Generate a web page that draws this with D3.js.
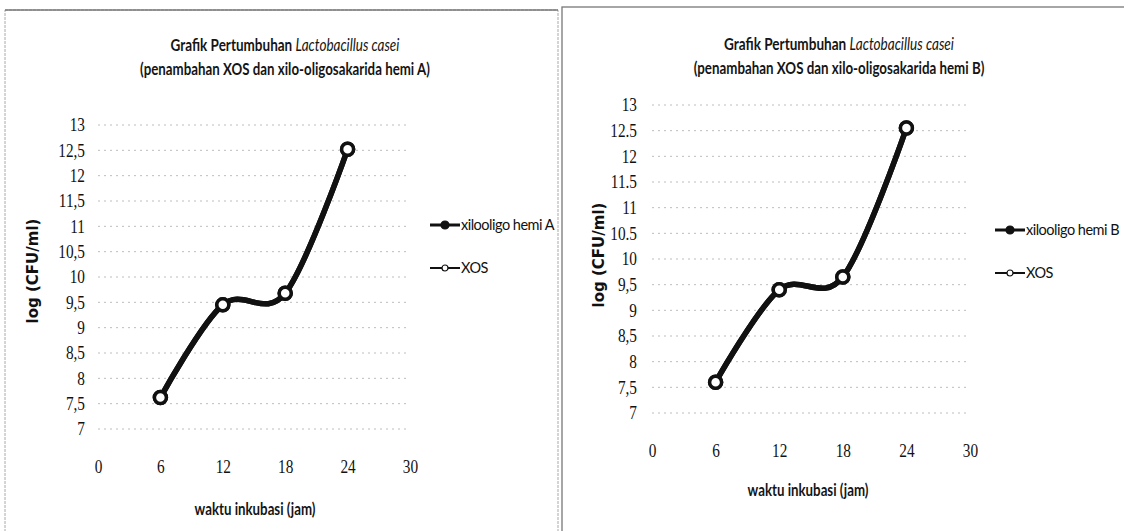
<!DOCTYPE html>
<html>
<head>
<meta charset="utf-8">
<script src="https://cdn.jsdelivr.net/npm/d3@7"></script>
<style>
  html, body { margin: 0; padding: 0; background: #fff; }
  svg { display: block; font-family: Lato, "Open Sans", sans-serif; }
</style>
</head>
<body>
<svg id="chart" width="1124" height="531"></svg>
<script>
// jam inkubasi
const hours = [6, 12, 18, 24];

// log (CFU/ml), panel A
const hemiA = [7.62, 9.45, 9.68, 12.52];
const xosA = [7.62, 9.45, 9.68, 12.52];

// log (CFU/ml), panel B
const hemiB = [7.60, 9.40, 9.65, 12.55];
const xosB = [7.60, 9.40, 9.65, 12.55];

const xTicks = [0, 6, 12, 18, 24, 30];
const yTicks = [7, 7.5, 8, 8.5, 9, 9.5, 10, 10.5, 11, 11.5, 12, 12.5, 13];
const yLabelsA = ["7", "7,5", "8", "8,5", "9", "9,5", "10", "10,5", "11", "11,5", "12", "12,5", "13"];
const yLabelsB = ["7", "7,5", "8", "8,5", "9", "9,5", "10", "10.5", "11", "11.5", "12", "12.5", "13"];

const titleMain = "Grafik Pertumbuhan ";
const titleSpecies = "Lactobacillus casei";
const subtitleA = "(penambahan XOS dan xilo-oligosakarida hemi A)";
const subtitleB = "(penambahan XOS dan xilo-oligosakarida hemi B)";
const xTitle = "waktu inkubasi (jam)";
const yTitle = "log (CFU/ml)";

const svg = d3.select("#chart");

// panel frames
svg.append("rect").attr("x", 5).attr("y", 10).attr("width", 553).attr("height", 540)
    .attr("fill", "none").attr("stroke", "#aaa").attr("stroke-width", 1).attr("stroke-dasharray", "3,1");
svg.append("line").attr("x1", 5).attr("x2", 558).attr("y1", 10).attr("y2", 10)
    .attr("stroke", "#777").attr("stroke-width", 1.3);
svg.append("rect").attr("x", 562).attr("y", 7).attr("width", 580).attr("height", 540)
    .attr("fill", "none").attr("stroke", "#777").attr("stroke-width", 1.3);

// squeeze a text horizontally so it fills the given width (narrow Calibri look)
function squeezed(parent, str, cx, cy, width, size) {
    const g = parent.append("g");
    const t = g.append("text")
        .attr("x", 0).attr("y", 0)
        .attr("text-anchor", "middle")
        .attr("font-size", size)
        .attr("font-weight", "bold")
        .attr("fill", "#151515");
    if (typeof str === "function") str(t); else t.text(str);
    const k = width / t.node().getComputedTextLength();
    g.attr("transform", `translate(${cx},${cy}) scale(${k},1)`);
    return t;
}

function drawPanel(cfg) {
    const g = svg.append("g");
    const x = d3.scaleLinear().domain([0, 30]).range([cfg.left, cfg.right]);
    const y = d3.scaleLinear().domain([7, 13]).range([cfg.bottom, cfg.top]);

    // title
    squeezed(g, t => {
        t.append("tspan").text(titleMain);
        t.append("tspan").attr("font-style", "italic").attr("font-weight", "normal").text(titleSpecies);
    }, cfg.titleX, cfg.titleY, cfg.titleW1, 17.5);
    squeezed(g, cfg.subtitle, cfg.titleX, cfg.titleY + 24, cfg.titleW2, 17.5);

    // grid lines
    g.selectAll(".grid")
        .data(yTicks)
        .enter()
        .append("line")
        .attr("x1", x(0)).attr("x2", x(30))
        .attr("y1", d => y(d)).attr("y2", d => y(d))
        .attr("stroke", "#bdbdbd").attr("stroke-width", 1)
        .attr("stroke-dasharray", "2,4");

    const tickFont = "Liberation Serif, DejaVu Serif, serif";

    // y axis
    const yAxis = d3.axisLeft(y)
        .tickValues(yTicks)
        .tickSize(0)
        .tickPadding(0)
        .tickFormat((d, i) => cfg.yLabels[i]);
    const ya = g.append("g").attr("transform", `translate(${cfg.left - cfg.yPad},0)`).call(yAxis)
        .attr("font-family", tickFont).attr("font-size", 18);
    ya.select(".domain").remove();
    ya.selectAll("text")
        .attr("x", 0)
        .attr("transform", "scale(0.85,1)")
        .attr("fill", "#111");

    // x axis
    const xAxis = d3.axisBottom(x)
        .tickValues(xTicks)
        .tickSize(0)
        .tickPadding(cfg.xPad);
    const xa = g.append("g").attr("transform", `translate(0,${cfg.bottom})`).call(xAxis)
        .attr("font-family", tickFont).attr("font-size", 18);
    xa.select(".domain").remove();
    xa.selectAll("text")
        .attr("transform", "scale(0.85,1)")
        .attr("fill", "#111");

    // axis titles
    squeezed(g, xTitle, cfg.xTitleX, cfg.xTitleY, 121, 16.5);
    g.append("text")
        .attr("transform", `translate(${cfg.yTitleX},${cfg.yTitleY}) rotate(-90)`)
        .attr("text-anchor", "middle")
        .attr("font-size", 15).attr("font-weight", "bold").attr("fill", "#111")
        .attr("font-family", "DejaVu Sans, sans-serif")
        .text(yTitle);

    const line = d3.line()
        .x(d => x(d[0]))
        .y(d => y(d[1]))
        .curve(d3.curveCatmullRom.alpha(0));

    const series = [
        { values: cfg.hemi, fill: "#111" },
        { values: cfg.xos, fill: "#fff" }
    ];
    series.forEach(s => {
        const pts = hours.map((h, i) => [h, s.values[i]]);
        g.append("path")
            .datum(pts)
            .attr("d", line)
            .attr("fill", "none")
            .attr("stroke", "#111")
            .attr("stroke-width", 5.5);
        g.selectAll(null)
            .data(pts)
            .enter()
            .append("circle")
            .attr("cx", d => x(d[0]))
            .attr("cy", d => y(d[1]))
            .attr("r", 6)
            .attr("fill", s.fill)
            .attr("stroke", "#111")
            .attr("stroke-width", 3.5);
    });

    // legend
    const legend = g.selectAll(".legend")
        .data([cfg.legendName, "XOS"])
        .enter()
        .append("g")
        .attr("transform", (d, i) => `translate(${cfg.legendX}, ${cfg.legendY + i * 43})`);
    legend.append("line")
        .attr("x1", 0).attr("x2", 30).attr("y1", 0).attr("y2", 0)
        .attr("stroke", "#111")
        .attr("stroke-width", (d, i) => i === 0 ? 3 : 2);
    legend.append("circle")
        .attr("cx", 15).attr("cy", 0)
        .attr("r", (d, i) => i === 0 ? 4 : 3)
        .attr("fill", (d, i) => i === 0 ? "#111" : "#fff")
        .attr("stroke", "#111")
        .attr("stroke-width", 1.2);
    legend.append("text")
        .attr("x", 31).attr("y", 5)
        .attr("font-size", 14.5)
        .attr("letter-spacing", -0.5)
        .attr("fill", "#111")
        .text(d => d);
}

drawPanel({
    left: 98, right: 410, top: 125, bottom: 429, yPad: 13, xPad: 31,
    titleX: 285, titleY: 51, titleW1: 229, titleW2: 290, subtitle: subtitleA,
    xTitleX: 255, xTitleY: 515, yTitleX: 38, yTitleY: 271,
    yLabels: yLabelsA, hemi: hemiA, xos: xosA,
    legendName: "xilooligo hemi A", legendX: 430, legendY: 225
});

drawPanel({
    left: 652, right: 970, top: 105, bottom: 413, yPad: 15, xPad: 31,
    titleX: 839, titleY: 50, titleW1: 230, titleW2: 291, subtitle: subtitleB,
    xTitleX: 808, xTitleY: 496, yTitleX: 604, yTitleY: 255,
    yLabels: yLabelsB, hemi: hemiB, xos: xosB,
    legendName: "xilooligo hemi B", legendX: 995, legendY: 230
});
</script>
</body>
</html>
